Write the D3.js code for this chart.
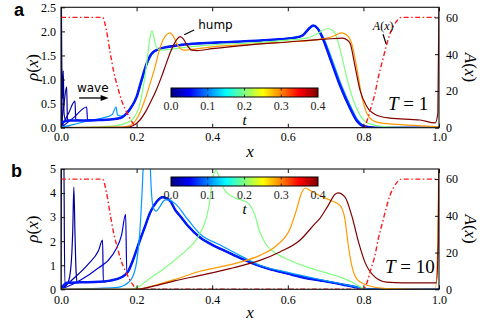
<!DOCTYPE html>
<html>
<head>
<meta charset="utf-8">
<script src="https://cdn.jsdelivr.net/npm/d3@7"></script>
<style>body{margin:0;background:#fff}</style>
</head>
<body>
<svg id="chart"></svg>
<script>
// ticks
const xTicks = [0, 0.2, 0.4, 0.6, 0.8, 1.0];
const rhoTicksA = [0, 0.5, 1.0, 1.5, 2.0, 2.5];
const rhoTicksB = [0, 1, 2, 3, 4, 5];
const aTicks = [0, 20, 40, 60];
const tTicks = [0, 0.1, 0.2, 0.3, 0.4];

// A(x), dash-dot red, right axis (same in both panels)
const areaA = [[0,60],[0.11,60],[0.12,53],[0.13,41],[0.14,30],[0.15,22],[0.16,15],[0.17,10],[0.18,6],[0.19,2.5],[0.2,0],
  [0.8,0],[0.81,4],[0.82,11],[0.83,18],[0.84,28],[0.85,36],[0.86,44],[0.87,51],[0.88,55.5],[0.89,58.5],[0.9,60],[1.0,60]];

// ---- panel a, T = 1 : rho(x) at several t ----
const a_base = [[0,0.1],[0.02,0.15],[0.06,0.15],[0.1,0.16],[0.13,0.17],[0.15,0.19],[0.16,0.21],[0.174,0.3],[0.187,0.44],[0.2,0.64],
  [0.213,0.99],[0.227,1.34],[0.24,1.54],[0.258,1.63],[0.284,1.68],[0.319,1.72],[0.363,1.75],[0.45,1.78],[0.55,1.82],[0.62,1.87],
  [0.64,1.92],[0.655,2.05],[0.667,2.12],[0.678,2.07],[0.69,1.9],[0.712,1.44],[0.738,0.88],[0.765,0.4],[0.782,0.15],[0.8,0.035],[0.83,0],[1,0]];
const a_t0 = [[0,0],[0.001,2.7],[0.003,0.1],[0.01,0.02],[0.05,0],[1,0]];
const a_w1 = [[0,0],[0.002,1.22],[0.004,0.6],[0.006,1.18],[0.008,0.3],[0.012,0.16]];
const a_w2 = [[0,0],[0.008,0.5],[0.015,0.85],[0.017,0.18]];
const a_w3 = [[0,0],[0.02,0.3],[0.037,0.55],[0.039,0.17]];
const a_w4 = [[0,0],[0.035,0.22],[0.068,0.43],[0.07,0.17]];
const a_light = [[0,0.01],[0.035,0.07],[0.07,0.14],[0.11,0.2],[0.135,0.27],[0.146,0.43],[0.149,0.27],[0.16,0.24],[0.174,0.3],[0.188,0.44],
  [0.2,0.62],[0.215,0.99],[0.229,1.34],[0.242,1.54],[0.26,1.63],[0.29,1.69],[0.33,1.73],[0.4,1.76],[0.5,1.8],[0.6,1.86],[0.64,1.92],
  [0.657,2.05],[0.669,2.11],[0.681,2.05],[0.694,1.88],[0.716,1.44],[0.742,0.88],[0.769,0.4],[0.786,0.15],[0.804,0.035],[0.835,0],[1,0]];
const a_green = [[0,0],[0.1,0.02],[0.15,0.05],[0.17,0.09],[0.187,0.16],[0.2,0.3],[0.209,0.5],[0.216,0.78],[0.222,1.06],[0.231,1.61],
  [0.236,1.9],[0.24,2.01],[0.245,1.92],[0.249,1.75],[0.255,1.65],[0.262,1.61],[0.28,1.62],[0.32,1.66],[0.4,1.72],[0.5,1.76],[0.6,1.82],
  [0.65,1.86],[0.68,1.96],[0.7,2.05],[0.707,2.06],[0.716,2.03],[0.725,1.96],[0.734,1.75],[0.747,1.34],[0.76,0.92],[0.773,0.58],
  [0.791,0.26],[0.813,0.09],[0.86,0.02],[1,0]];
const a_orange = [[0,0],[0.15,0.01],[0.175,0.03],[0.191,0.09],[0.205,0.25],[0.222,0.58],[0.235,0.9],[0.249,1.27],[0.258,1.55],
  [0.266,1.75],[0.276,1.9],[0.288,1.97],[0.297,1.9],[0.306,1.75],[0.315,1.65],[0.324,1.61],[0.34,1.62],[0.4,1.68],[0.5,1.73],[0.6,1.78],
  [0.68,1.83],[0.72,1.9],[0.742,1.97],[0.755,1.93],[0.769,1.75],[0.782,1.27],[0.796,0.64],[0.809,0.3],[0.825,0.15],[0.844,0.1],
  [0.906,0.06],[0.976,0.03],[0.995,0.02],[1,0]];
const a_brown = [[0,0],[0.17,0.005],[0.19,0.04],[0.209,0.16],[0.225,0.35],[0.24,0.58],[0.253,0.8],[0.266,1.06],[0.277,1.3],[0.288,1.54],
  [0.298,1.72],[0.306,1.83],[0.315,1.89],[0.324,1.84],[0.333,1.72],[0.346,1.61],[0.36,1.6],[0.4,1.64],[0.5,1.72],[0.6,1.78],[0.7,1.84],
  [0.745,1.86],[0.757,1.82],[0.765,1.75],[0.778,1.27],[0.791,0.78],[0.809,0.44],[0.835,0.26],[0.87,0.2],[0.95,0.16],[0.99,0.1],
  [0.997,0.3],[1.0,2.6]];

// ---- panel b, T = 10 ----
const b_base = [[0,0],[0.015,0.27],[0.05,0.29],[0.1,0.31],[0.13,0.36],[0.16,0.5],[0.178,0.75],[0.19,1.2],[0.209,2.05],[0.222,2.6],
  [0.235,3.16],[0.253,3.64],[0.268,3.83],[0.28,3.78],[0.29,3.65],[0.302,3.3],[0.315,3.05],[0.335,2.65],[0.368,2.15],[0.4,1.85],
  [0.421,1.69],[0.456,1.43],[0.5,1.12],[0.55,0.85],[0.6,0.65],[0.65,0.46],[0.7,0.33],[0.75,0.18],[0.79,0.05],[0.8,0],[1,0]];
const b_w0 = [[0,0],[0.002,6.5],[0.007,6.5],[0.01,0.27]];
const b_w1 = [[0,0],[0.018,0.25],[0.026,0.9],[0.031,2.4],[0.034,4.25],[0.037,2.3],[0.04,0.7],[0.043,0.28]];
const b_w2 = [[0,0],[0.037,0.5],[0.072,1.05],[0.099,1.6],[0.11,2.04],[0.112,0.31]];
const b_w3 = [[0,0],[0.04,0.28],[0.072,0.58],[0.1,0.9],[0.125,1.2],[0.145,1.65],[0.16,2.24],[0.171,3.12],[0.174,0.7]];
const b_light = [[0,0],[0.1,0.04],[0.15,0.08],[0.165,0.15],[0.178,0.28],[0.187,0.44],[0.2,1.13],[0.209,2.5],[0.215,4.2],[0.22,6],
  [0.228,7],[0.234,6],[0.238,4.4],[0.244,3.4],[0.252,3.25],[0.262,3.45],[0.275,3.72],[0.285,3.72],[0.302,3.56],[0.337,2.87],[0.368,2.3],
  [0.42,1.85],[0.474,1.4],[0.526,1.0],[0.6,0.7],[0.7,0.36],[0.75,0.2],[0.79,0.06],[0.8,0],[1,0]];
const b_green = [[0,0],[0.18,0],[0.205,0.1],[0.23,0.4],[0.249,0.6],[0.279,0.94],[0.3,1.2],[0.332,1.63],[0.355,2.0],[0.368,2.33],
  [0.385,3.0],[0.394,3.7],[0.4,4.5],[0.41,4.95],[0.42,4.6],[0.43,4.2],[0.44,4.0],[0.463,3.78],[0.489,3.64],[0.5,3.5],[0.513,3.08],
  [0.526,2.38],[0.544,1.83],[0.571,1.48],[0.606,1.2],[0.65,0.93],[0.685,0.76],[0.738,0.51],[0.77,0.3],[0.791,0.1],[0.808,0],[1,0]];
const b_orange = [[0,0],[0.2,0],[0.249,0.17],[0.3,0.4],[0.368,0.75],[0.421,0.93],[0.474,1.13],[0.526,1.41],[0.571,1.83],[0.606,2.52],
  [0.624,3.35],[0.635,3.95],[0.646,4.21],[0.659,4.11],[0.681,3.92],[0.712,3.7],[0.738,3.49],[0.751,2.93],[0.76,1.83],[0.769,1.0],
  [0.782,0.44],[0.809,0.17],[0.861,0.03],[0.99,0],[0.997,2],[1.0,6]];
const b_brown = [[0,0],[0.2,0],[0.25,0.15],[0.3,0.35],[0.368,0.58],[0.447,0.86],[0.526,1.2],[0.579,1.55],[0.632,2.04],[0.672,2.73],
  [0.685,2.95],[0.707,3.49],[0.725,3.95],[0.733,4.01],[0.751,3.84],[0.769,3.07],[0.787,1.97],[0.804,1.13],[0.826,0.58],[0.861,0.3],
  [0.905,0.27],[0.993,0.27],[0.998,2],[1.0,6]];

// glue an early wave front onto the converged profile
function withTail(head, tail) {
  const x0 = head[head.length - 1][0];
  return head.concat(tail.filter(p => p[0] > x0));
}

// [t, curve]
const seriesA = [[0, a_t0], [0.005, withTail(a_w1, a_base)], [0.01, withTail(a_w2, a_base)], [0.02, withTail(a_w3, a_base)],
  [0.035, withTail(a_w4, a_base)], [0.11, a_light], [0.06, a_base], [0.2, a_green], [0.29, a_orange], [0.4, a_brown]];
const seriesB = [[0, withTail(b_w0, b_base)], [0.01, withTail(b_w1, b_base)], [0.02, withTail(b_w2, b_base)],
  [0.035, withTail(b_w3, b_base)], [0.06, b_base], [0.11, b_light], [0.2, b_green], [0.29, b_orange], [0.4, b_brown]];

const tMax = 0.4;
function jet(v) {
  const c = k => Math.round(255 * Math.max(0, Math.min(1, 1.5 - Math.abs(4 * v - k))));
  return `rgb(${c(3)},${c(2)},${c(1)})`;
}

const width = 490, height = 322;
const serif = "Liberation Serif, Times New Roman, serif";
const svg = d3.select("#chart").attr("width", width).attr("height", height);

const defs = svg.append("defs");
const grad = defs.append("linearGradient").attr("id", "jet");
d3.range(0, 1.0001, 0.025).forEach(v => grad.append("stop").attr("offset", v).attr("stop-color", jet(v)));

const x = d3.scaleLinear().domain([0, 1]).range([61, 439]);
const aMax = 65.5;

const panels = [
  { top: 7.3, bottom: 127.7, rhoMax: 2.5, ticks: rhoTicksA, fmt: d3.format(".1f"), series: seriesA, T: "1",
    letter: "a", letterY: 15.5, cbTop: 88, tAt: [0.865, 0.37], xPad: 5 },
  { top: 169, bottom: 289.3, rhoMax: 5, ticks: rhoTicksB, fmt: d3.format("d"), series: seriesB, T: "10",
    letter: "b", letterY: 176.7, cbTop: 177, tAt: [0.857, 0.68], xPad: 6.5 }
];

panels.forEach((p, i) => {
  const y = d3.scaleLinear().domain([0, p.rhoMax]).range([p.bottom, p.top]);
  const yA = d3.scaleLinear().domain([0, aMax]).range([p.bottom, p.top]);
  const g = svg.append("g");

  defs.append("clipPath").attr("id", "clip" + i).append("rect")
    .attr("x", x(0)).attr("y", p.top).attr("width", x(1) - x(0)).attr("height", p.bottom - p.top);
  const plot = g.append("g").attr("clip-path", `url(#clip${i})`);

  const line = d3.line().x(d => x(d[0])).y(d => y(d[1])).curve(d3.curveMonotoneX);
  plot.selectAll("path.rho").data(p.series).join("path")
    .attr("class", "rho")
    .attr("d", d => line(d[1]))
    .attr("fill", "none")
    .attr("stroke", d => jet(d[0] / tMax))
    .attr("stroke-width", d => d[0] === 0.06 ? 2.5 : 1.2);

  const lineA = d3.line().x(d => x(d[0])).y(d => yA(d[1])).curve(d3.curveMonotoneX);
  plot.append("path").attr("d", lineA(areaA))
    .attr("fill", "none").attr("stroke", "#ff1a1a").attr("stroke-width", 1.4)
    .attr("stroke-dasharray", "5,2.5,1.5,2.5");

  // axes
  const styleAxis = sel => {
    sel.attr("font-family", serif).attr("font-size", 12);
    sel.select(".domain").remove();
    sel.selectAll(".tick line").attr("stroke", "#111");
  };
  g.append("g").attr("transform", `translate(0,${p.bottom})`)
    .call(d3.axisBottom(x).tickValues(xTicks).tickFormat(d3.format(".1f")).tickSize(-4).tickPadding(p.xPad)).call(styleAxis);
  g.append("g").attr("transform", `translate(0,${p.top})`)
    .call(d3.axisTop(x).tickValues(xTicks).tickFormat("").tickSize(-4)).call(styleAxis);
  g.append("g").attr("transform", `translate(${x(0)},0)`)
    .call(d3.axisLeft(y).tickValues(p.ticks).tickFormat(p.fmt).tickSize(-4).tickPadding(5)).call(styleAxis);
  g.append("g").attr("transform", `translate(${x(1)},0)`)
    .call(d3.axisRight(yA).tickValues(aTicks).tickSize(-4).tickPadding(7)).call(styleAxis);

  g.append("rect").attr("x", x(0)).attr("y", p.top).attr("width", x(1) - x(0)).attr("height", p.bottom - p.top)
    .attr("fill", "none").attr("stroke", "#111").attr("stroke-width", 1.1);

  // axis labels
  const mid = (p.top + p.bottom) / 2;
  const rl = g.append("text").attr("transform", `translate(38,${mid}) rotate(-90)`)
    .attr("text-anchor", "middle").attr("font-family", serif).attr("font-size", 17);
  rl.append("tspan").attr("font-style", "italic").text("ρ");
  rl.append("tspan").text("(");
  rl.append("tspan").attr("font-style", "italic").text("x");
  rl.append("tspan").text(")");

  const al = g.append("text").attr("transform", `translate(465,${mid}) rotate(90)`)
    .attr("text-anchor", "middle").attr("font-family", serif).attr("font-size", 17);
  al.append("tspan").attr("font-style", "italic").text("A");
  al.append("tspan").text("(");
  al.append("tspan").attr("font-style", "italic").text("x");
  al.append("tspan").text(")");

  g.append("text").attr("x", x(0.5)).attr("y", p.bottom + 29).attr("text-anchor", "middle")
    .attr("font-family", serif).attr("font-style", "italic").attr("font-size", 17).text("x");

  // T label
  const tl = g.append("text").attr("x", x(p.tAt[0])).attr("y", y(p.tAt[1]))
    .attr("font-family", serif).attr("font-size", 19);
  tl.append("tspan").attr("font-style", "italic").text("T");
  tl.append("tspan").text(" = " + p.T);

  // panel letter
  g.append("text").attr("x", i === 0 ? 14 : 11).attr("y", p.letterY)
    .attr("font-family", "Liberation Sans, Arial, sans-serif").attr("font-weight", "bold").attr("font-size", 18)
    .text(p.letter);

  // colorbar
  const cb = d3.scaleLinear().domain([0, tMax]).range([171, 318]);
  const cbH = 9;
  const bar = g.append("g");
  bar.append("rect").attr("x", cb(0)).attr("y", p.cbTop).attr("width", cb(tMax) - cb(0)).attr("height", cbH)
    .attr("fill", "url(#jet)").attr("stroke", "#000").attr("stroke-width", 1);
  bar.selectAll("line.cbt").data(tTicks.slice(1, -1)).join("line").attr("class", "cbt")
    .attr("x1", d => cb(d)).attr("x2", d => cb(d)).attr("y1", p.cbTop).attr("y2", p.cbTop + 2.5)
    .attr("stroke", "#000").attr("stroke-width", 0.8);
  bar.selectAll("line.cbb").data(tTicks.slice(1, -1)).join("line").attr("class", "cbb")
    .attr("x1", d => cb(d)).attr("x2", d => cb(d)).attr("y1", p.cbTop + cbH - 2.5).attr("y2", p.cbTop + cbH)
    .attr("stroke", "#000").attr("stroke-width", 0.8);
  bar.selectAll("text.cbl").data(tTicks).join("text").attr("class", "cbl")
    .attr("x", d => cb(d)).attr("y", p.cbTop + cbH + 12.5).attr("text-anchor", "middle")
    .attr("font-family", serif).attr("font-size", 12).attr("fill", "#222").text(d3.format(".1f"));
  bar.append("text").attr("x", cb(0.2)).attr("y", p.cbTop + cbH + 27.5).attr("text-anchor", "middle")
    .attr("font-family", serif).attr("font-style", "italic").attr("font-size", 15).text("t");

  if (i === 0) {
    // annotations in data units
    const sans = "DejaVu Sans, sans-serif";
    g.append("text").attr("x", x(0.042)).attr("y", y(0.75)).attr("font-family", sans).attr("font-size", 12).text("wave");
    g.append("line").attr("x1", x(0.048)).attr("y1", y(0.617)).attr("x2", x(0.108)).attr("y2", y(0.617))
      .attr("stroke", "#000").attr("stroke-width", 1.3);
    const ax = x(0.126), ay = y(0.617);
    g.append("path").attr("d", `M${ax},${ay} L${ax - 8},${ay - 3} L${ax - 8},${ay + 3} Z`).attr("fill", "#000");

    g.append("text").attr("x", x(0.363)).attr("y", y(2.04)).attr("font-family", sans).attr("font-size", 12).text("hump");
    g.append("line").attr("x1", x(0.326)).attr("y1", y(1.93)).attr("x2", x(0.352)).attr("y2", y(2.03))
      .attr("stroke", "#000").attr("stroke-width", 1.2);

    const lab = g.append("text").attr("x", x(0.825)).attr("y", y(2.03)).attr("font-family", serif).attr("font-size", 12);
    lab.append("tspan").attr("font-style", "italic").text("A");
    lab.append("tspan").text("(");
    lab.append("tspan").attr("font-style", "italic").text("x");
    lab.append("tspan").text(")");
    g.append("line").attr("x1", x(0.852)).attr("y1", y(1.94)).attr("x2", x(0.86)).attr("y2", y(1.74))
      .attr("stroke", "#000").attr("stroke-width", 1.2);
  }
});
</script>
</body>
</html>
